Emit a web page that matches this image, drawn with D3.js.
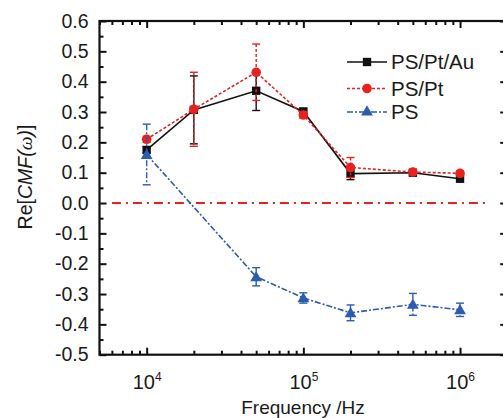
<!DOCTYPE html>
<html>
<head>
<meta charset="utf-8">
<script src="https://cdn.jsdelivr.net/npm/d3@7/dist/d3.min.js"></script>
<style>
  html, body { margin: 0; padding: 0; background: #fff; }
  svg { display: block; }
  text { font-family: "Liberation Sans", Arial, sans-serif; fill: #1a1a1a; }
</style>
</head>
<body>
<svg id="chart" width="503" height="418"></svg>
<script>
// Frequencies (Hz) of the measurements
const freqs = [1e4, 2e4, 5e4, 1e5, 2e5, 5e5, 1e6];
const psFreqs = [1e4, 5e4, 1e5, 2e5, 5e5, 1e6];

// PS/Pt/Au
const auVals = [0.175, 0.307, 0.370, 0.302, 0.097, 0.100, 0.080];
const auErr  = [0.010, 0.112, 0.065, 0.008, 0.020, 0.010, 0.008];
// PS/Pt
const ptVals = [0.210, 0.309, 0.431, 0.290, 0.117, 0.102, 0.098];
const ptErr  = [0.010, 0.122, 0.093, 0.010, 0.033, 0.008, 0.008];
// PS
const psVals = [0.160, -0.243, -0.313, -0.362, -0.334, -0.352];
const psErr  = [0.100, 0.030, 0.017, 0.026, 0.036, 0.022];

const seriesNames = ["PS/Pt/Au", "PS/Pt", "PS"];
const yTicks = [0.6, 0.5, 0.4, 0.3, 0.2, 0.1, 0.0, -0.1, -0.2, -0.3, -0.4, -0.5];
const xTickExps = [4, 5, 6];

const svg = d3.select("#chart");

const x = d3.scaleLog().domain([5e3, 2e6]).range([99.5, 507.2]);
const y = d3.scaleLinear().domain([-0.5, 0.6]).range([354.7, 21]);
const [x0, x1] = x.range();
const [yb, yt] = y.range();

const RED = "#e8211e", BLUE = "#2b5cb0", BLACK = "#111";

// minor tick values
const xMinor = [];
for (let e = 3; e <= 6; e++) for (let m = 1; m <= 9; m++) {
  const v = m * Math.pow(10, e);
  if (v >= 5e3 && v <= 2e6 && m !== 1) xMinor.push(v);
}
const xMajor = xTickExps.map(e => Math.pow(10, e));
const yMinor = d3.range(-0.45, 0.6, 0.1).map(v => +v.toFixed(2));

const axisG = svg.append("g");

// bottom axis (ticks point inward) with labels
const bottom = axisG.append("g").attr("transform", `translate(0,${yb})`)
  .call(d3.axisBottom(x).tickValues(xMajor).tickSize(-7).tickPadding(14).tickFormat(""));
bottom.selectAll(".tick text").each(function(d) {
  const t = d3.select(this).attr("font-size", 20).attr("y", 34).attr("dy", null).attr("text-anchor", "middle");
  t.append("tspan").text("10");
  t.append("tspan").attr("font-size", 12).attr("dy", -8).text(Math.round(Math.log10(d)));
});
axisG.append("g").attr("transform", `translate(0,${yb})`)
  .call(d3.axisBottom(x).tickValues(xMinor).tickSize(-4).tickFormat(""));
// top axis
axisG.append("g").attr("transform", `translate(0,${yt})`)
  .call(d3.axisTop(x).tickValues(xMajor).tickSize(-7).tickFormat(""));
axisG.append("g").attr("transform", `translate(0,${yt})`)
  .call(d3.axisTop(x).tickValues(xMinor).tickSize(-4).tickFormat(""));
// left axis with labels
axisG.append("g").attr("transform", `translate(${x0},0)`)
  .call(d3.axisLeft(y).tickValues(yTicks).tickSize(-7).tickPadding(14).tickFormat(d3.format(".1f")))
  .selectAll(".tick text").attr("font-size", 19.5).attr("x", -11).text(d => d3.format(".1f")(d).replace("−", "-"));
axisG.append("g").attr("transform", `translate(${x0},0)`)
  .call(d3.axisLeft(y).tickValues(yMinor).tickSize(-4).tickFormat(""));
// right axis
axisG.append("g").attr("transform", `translate(${x1},0)`)
  .call(d3.axisRight(y).tickValues(yTicks).tickSize(-7).tickFormat(""));
axisG.append("g").attr("transform", `translate(${x1},0)`)
  .call(d3.axisRight(y).tickValues(yMinor).tickSize(-4).tickFormat(""));

axisG.selectAll(".domain").remove();
axisG.selectAll(".tick line").attr("stroke", BLACK).attr("stroke-width", 2);
axisG.selectAll(".tick text").attr("fill", "#1a1a1a").attr("font-family", "Liberation Sans, Arial, sans-serif");

// frame
svg.append("rect").attr("x", x0).attr("y", yt).attr("width", x1 - x0).attr("height", yb - yt)
  .attr("fill", "none").attr("stroke", BLACK).attr("stroke-width", 2.2);

// zero reference line
svg.append("line")
  .attr("x1", x(6e3)).attr("x2", x(1.5e6)).attr("y1", y(0)).attr("y2", y(0))
  .attr("stroke", RED).attr("stroke-width", 2).attr("stroke-dasharray", "9,5,2,5");

const series = [
  { name: seriesNames[0], f: freqs, v: auVals, e: auErr, color: BLACK, dash: null, shape: d3.symbolSquare, size: 70 },
  { name: seriesNames[1], f: freqs, v: ptVals, e: ptErr, color: RED, dash: "3,2", shape: d3.symbolCircle, size: 72 },
  { name: seriesNames[2], f: psFreqs, v: psVals, e: psErr, color: BLUE, dash: "6,2,2,2", shape: d3.symbolTriangle, size: 60 }
];

const line = d3.line().x(d => x(d[0])).y(d => y(d[1]));

series.forEach(s => {
  const pts = s.f.map((f, i) => [f, s.v[i], s.e[i]]);
  const g = svg.append("g");
  // error bars
  pts.forEach(p => {
    const cx = x(p[0]), top = y(p[1] + p[2]), bot = y(p[1] - p[2]);
    g.append("line").attr("x1", cx).attr("x2", cx).attr("y1", top).attr("y2", bot)
      .attr("stroke", s.color).attr("stroke-width", 1.4).attr("stroke-dasharray", s.dash);
    [top, bot].forEach(yy => g.append("line").attr("x1", cx - 4).attr("x2", cx + 4).attr("y1", yy).attr("y2", yy)
      .attr("stroke", s.color).attr("stroke-width", 1.4));
  });
  g.append("path").datum(pts).attr("d", line).attr("fill", "none")
    .attr("stroke", s.color).attr("stroke-width", 1.6).attr("stroke-dasharray", s.dash);
  g.selectAll("path.m").data(pts).join("path").attr("class", "m")
    .attr("transform", d => `translate(${x(d[0])},${y(d[1]) + (s.shape === d3.symbolTriangle ? 1 : 0)})`)
    .attr("d", d3.symbol().type(s.shape).size(s.size)).attr("fill", s.color);
});

// legend
const legY = [62, 88.5, 112];
series.forEach((s, i) => {
  const g = svg.append("g").attr("transform", `translate(0,${legY[i]})`);
  g.append("line").attr("x1", 347).attr("x2", 387).attr("stroke", s.color)
    .attr("stroke-width", 1.6).attr("stroke-dasharray", s.dash);
  g.append("path").attr("transform", "translate(367,0)")
    .attr("d", d3.symbol().type(s.shape).size(s.size)).attr("fill", s.color);
  g.append("text").attr("x", 391).attr("y", 7).attr("font-size", 20.5).text(s.name);
});

// axis titles
svg.append("text").attr("x", 303).attr("y", 414).attr("text-anchor", "middle").attr("font-size", 19)
  .text("Frequency /Hz");
const yt2 = svg.append("text").attr("transform", "translate(32,177) rotate(-90)")
  .attr("text-anchor", "middle").attr("font-size", 19.5);
yt2.append("tspan").text("Re[");
yt2.append("tspan").attr("font-style", "italic").text("CMF(");
yt2.append("tspan").attr("font-style", "italic").attr("font-family", "Liberation Serif, serif").text("ω");
yt2.append("tspan").attr("font-style", "italic").text(")");
yt2.append("tspan").text("]");
</script>
</body>
</html>
